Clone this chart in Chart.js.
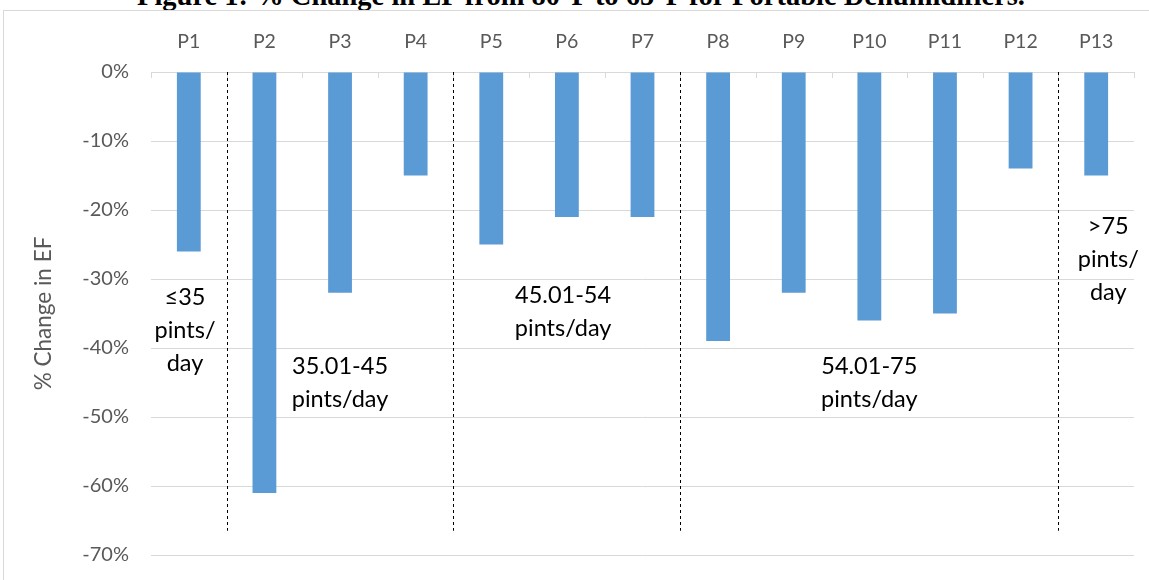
<!DOCTYPE html>
<html>
<head>
<meta charset="utf-8">
<script src="https://cdn.jsdelivr.net/npm/chart.js@4.4.0/dist/chart.umd.min.js"></script>
<style>
  body { margin: 0; background: #fff; overflow: hidden; }
  #title { position: absolute; left: 0; width: 1162px; top: -20px; text-align: center;
           font: bold 28.5px "Liberation Serif", "Times New Roman", serif; color: #000; white-space: nowrap; }
  #frame { position: absolute; left: 3px; top: 10px; width: 1200px; height: 620px; border: 1px solid #d9d9d9; }
  #wrap { position: absolute; left: 0; top: 0; width: 1149px; height: 580px; }
</style>
</head>
<body>
<div id="title">Figure 1: % Change in EF from 80°F to 65°F for Portable Dehumidifiers.</div>
<div id="frame"></div>
<div id="wrap"><canvas id="myChart" width="1149" height="580"></canvas></div>
<script>
var products = ['P1', 'P2', 'P3', 'P4', 'P5', 'P6', 'P7', 'P8', 'P9', 'P10', 'P11', 'P12', 'P13'];
var changeEF = [-26, -61, -32, -15, -25, -21, -21, -39, -32, -36, -35, -14, -15];

// capacity groups: text, category index it sits over, value at its middle
var groupText = [['≤35', 'pints/', 'day'], ['35.01-45', 'pints/day'], ['45.01-54', 'pints/day'], ['54.01-75', 'pints/day'], ['>75', 'pints/', 'day']];
var groupAt = [-0.05, 2, 4.95, 9, 12.16];
var groupMid = [-37.4, -45.1, -34.8, -45.1, -27.2];
var dividerAfter = [0, 3, 6, 11];
var dividerEnd = -66.5;

var fontFam = 'Lato, "Open Sans", sans-serif';

var extras = {
    id: 'extras',
    afterDatasetsDraw: function(chart) {
        var c = chart.ctx, x = chart.scales.x, y = chart.scales.y;
        var step = (x.right - x.left) / products.length;
        var y0 = y.getPixelForValue(0);
        c.save();
        // small tick marks under the 0% line
        c.strokeStyle = '#d9d9d9';
        c.lineWidth = 1;
        for (var i = 0; i <= products.length; i++) {
            var px = Math.round(x.left + step * i) + 0.5;
            c.beginPath();
            c.moveTo(px, y0);
            c.lineTo(px, y0 + 6);
            c.stroke();
        }
        // dashed group dividers
        c.strokeStyle = '#000';
        c.setLineDash([3, 3]);
        for (var j = 0; j < dividerAfter.length; j++) {
            var dx = Math.round(x.getPixelForValue(dividerAfter[j]) + step / 2) + 0.5;
            c.beginPath();
            c.moveTo(dx, y0);
            c.lineTo(dx, y.getPixelForValue(dividerEnd));
            c.stroke();
        }
        c.setLineDash([]);
        // group labels
        c.fillStyle = '#000';
        c.font = '23.5px ' + fontFam;
        c.textAlign = 'center';
        c.textBaseline = 'middle';
        var lh = 33;
        for (var k = 0; k < groupText.length; k++) {
            var gx = x.getPixelForValue(0) + step * groupAt[k];
            var gy = y.getPixelForValue(groupMid[k]);
            var lines = groupText[k];
            for (var m = 0; m < lines.length; m++) {
                c.fillText(lines[m], gx, gy + (m - (lines.length - 1) / 2) * lh);
            }
        }
        c.restore();
    }
};

const ctx = document.getElementById('myChart').getContext('2d');

const myChart = new Chart(ctx, {
    type: 'bar',
    data: {
        labels: products,
        datasets: [{
            data: changeEF,
            backgroundColor: '#5b9bd5',
            barPercentage: 0.63,
            categoryPercentage: 0.5
        }]
    },
    options: {
        responsive: false,
        animation: false,
        events: [],
        layout: { padding: { left: 20, top: 0, right: 15, bottom: 25 } },
        plugins: {
            legend: { display: false },
            tooltip: { enabled: false }
        },
        scales: {
            x: {
                position: 'top',
                grid: { display: false, drawTicks: false },
                border: { display: false },
                ticks: { color: '#595959', font: { family: fontFam, size: 19.5 }, padding: 19, maxRotation: 0 },
                afterFit: function(s) { s.height = 72; s.paddingLeft = 0; s.paddingRight = 0; }
            },
            y: {
                min: -70,
                max: 0,
                ticks: {
                    stepSize: 10,
                    color: '#595959',
                    font: { family: fontFam, size: 20 },
                    padding: 22,
                    callback: function(v) { return v + '%'; }
                },
                grid: { color: '#d9d9d9', drawTicks: false },
                border: { display: false },
                title: {
                    display: true,
                    text: '% Change in EF',
                    color: '#595959',
                    font: { family: fontFam, size: 22.5 },
                    padding: { top: 10, bottom: 0 }
                },
                afterFit: function(s) { s.width = 131; s.paddingTop = 0; s.paddingBottom = 0; }
            }
        }
    },
    plugins: [extras]
});
</script>
</body>
</html>
